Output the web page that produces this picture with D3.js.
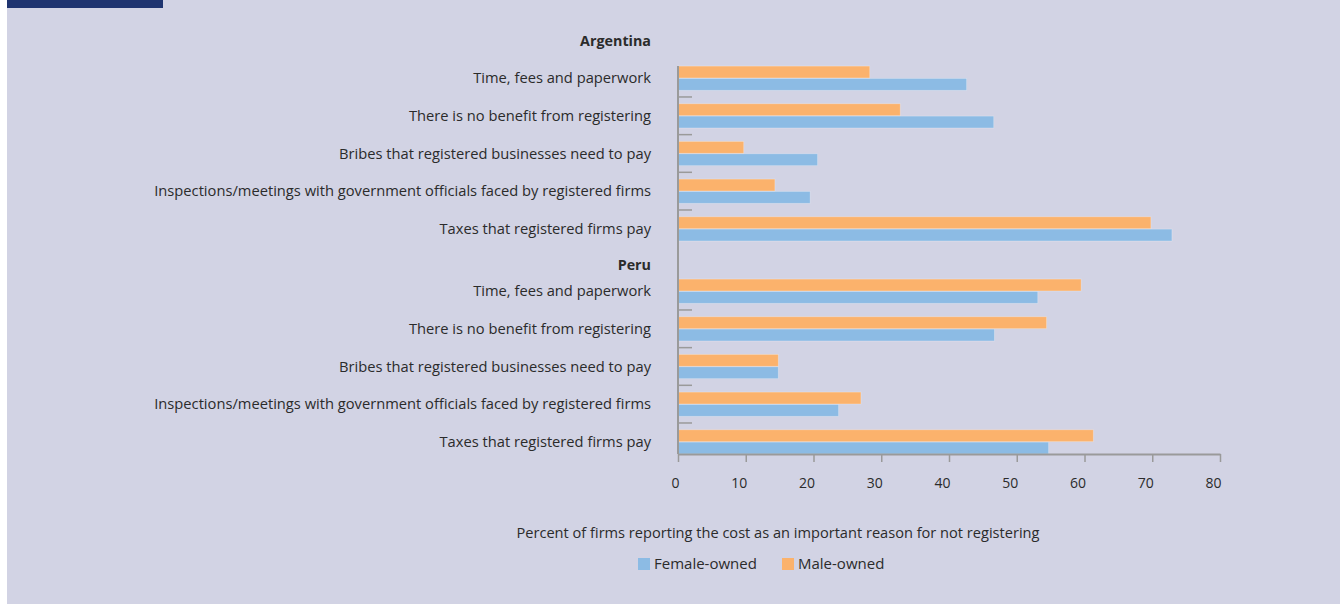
<!DOCTYPE html>
<html>
<head>
<meta charset="utf-8">
<script src="https://cdn.jsdelivr.net/npm/d3@7"></script>
<style>
  html, body { margin: 0; padding: 0; background: #ffffff; }
  svg { display: block; }
  text { font-family: "Open Sans", "Noto Sans", sans-serif; fill: #2b2b2b; }
</style>
</head>
<body>
<svg id="chart" width="1340" height="604"></svg>
<script>
// values (percent of firms)
var groups = ["Argentina", "Peru"];
var reasons = [
  "Time, fees and paperwork",
  "There is no benefit from registering",
  "Bribes that registered businesses need to pay",
  "Inspections/meetings with government officials faced by registered firms",
  "Taxes that registered firms pay"
];
var series = ["Female-owned", "Male-owned"];
var femaleArgentina = [42.6, 46.6, 20.6, 19.5, 72.9];
var maleArgentina = [28.3, 32.8, 9.7, 14.3, 69.8];
var femalePeru = [53.1, 46.7, 14.8, 23.7, 54.7];
var malePeru = [59.5, 54.4, 14.8, 27.0, 61.3];
var xTicks = [0, 10, 20, 30, 40, 50, 60, 70, 80];

var values = {
  "Argentina": { "Female-owned": femaleArgentina, "Male-owned": maleArgentina },
  "Peru": { "Female-owned": femalePeru, "Male-owned": malePeru }
};

var colors = { "Female-owned": "#8cbbe4", "Male-owned": "#fbb26c" };
var axisColor = "#9a9a9a";
var fontSize = "14.7px";

var svg = d3.select("#chart");

// background panel
svg.append("rect")
  .attr("x", 7).attr("y", 0)
  .attr("width", 1333).attr("height", 604)
  .attr("fill", "#d2d3e4");

// figure tab (title itself is cut off above the picture)
svg.append("rect")
  .attr("x", 7).attr("y", 0)
  .attr("width", 156).attr("height", 8)
  .attr("fill", "#1f3470");

var x = d3.scaleLinear()
  .domain([0, 80])
  .range([678, 1220]);

var rowStep = 37.67;
var groupTop = { "Argentina": 59.3, "Peru": 272.3 };

var y = {};
groups.forEach(function(g) {
  y[g] = d3.scaleBand()
    .domain(reasons)
    .range([groupTop[g], groupTop[g] + rowStep * reasons.length]);
});

// inside each row: male bar on top, female bar below
var inner = d3.scaleBand()
  .domain(["Male-owned", "Female-owned"])
  .range([6.8, 31])
  .paddingInner(0.04);

var plotTop = y["Argentina"](reasons[0]) + inner("Male-owned");
var plotBottom = y["Peru"](reasons[reasons.length - 1]) + inner("Female-owned") + inner.bandwidth();

groups.forEach(function(g) {
  var gg = svg.append("g").attr("class", "group");

  // group header
  gg.append("text")
    .attr("x", 651)
    .attr("y", g == "Argentina" ? 46 : 270)
    .attr("text-anchor", "end")
    .style("font-size", "14.3px")
    .style("font-weight", "bold")
    .text(g);

  // category labels
  var yAxis = d3.axisLeft(y[g]).tickSize(0).tickPadding(0);
  var ax = gg.append("g")
    .attr("transform", "translate(651,0)")
    .call(yAxis);
  ax.select(".domain").remove();
  ax.selectAll("text")
    .attr("dy", "0.35em")
    .style("font-size", fontSize)
    .style("font-family", "'Open Sans', sans-serif")
    .attr("fill", "#2b2b2b");

  // bars
  series.forEach(function(s) {
    gg.selectAll("rect." + s)
      .data(values[g][s])
      .enter()
      .append("rect")
      .attr("x", x(0))
      .attr("y", function(d, i) { return y[g](reasons[i]) + inner(s); })
      .attr("width", function(d) { return x(d) - x(0); })
      .attr("height", inner.bandwidth())
      .attr("fill", colors[s])
      .attr("stroke", "rgba(255,255,255,0.3)")
      .attr("stroke-width", 0.8);
  });

  // small separator ticks between rows
  gg.selectAll("line.sep")
    .data(reasons.slice(1))
    .enter()
    .append("line")
    .attr("x1", x(0))
    .attr("x2", x(0) + 14)
    .attr("y1", function(d) { return y[g](d); })
    .attr("y2", function(d) { return y[g](d); })
    .attr("stroke", axisColor)
    .attr("stroke-width", 1.5);
});

// vertical axis line
svg.append("line")
  .attr("x1", x(0)).attr("x2", x(0))
  .attr("y1", plotTop).attr("y2", plotBottom)
  .attr("stroke", axisColor)
  .attr("stroke-width", 2);

// x axis
var xAxis = d3.axisBottom(x)
  .tickValues(xTicks)
  .tickSize(8)
  .tickPadding(16)
  .tickSizeOuter(0);

var xg = svg.append("g")
  .attr("transform", "translate(0," + plotBottom + ")")
  .call(xAxis);
xg.select(".domain").attr("stroke", axisColor).attr("stroke-width", 2);
xg.selectAll(".tick line").attr("stroke", axisColor).attr("stroke-width", 1.5);
xg.selectAll(".tick text")
  .attr("text-anchor", "end")
  .attr("dx", 1)
  .style("font-size", "14px")
  .style("font-family", "'Open Sans', sans-serif")
  .attr("fill", "#2b2b2b");

// axis title
svg.append("text")
  .attr("x", 778)
  .attr("y", 538)
  .attr("text-anchor", "middle")
  .style("font-size", "14.6px")
  .text("Percent of firms reporting the cost as an important reason for not registering");

// legend
var legendX = [638, 782];
var leg = svg.selectAll("g.legend")
  .data(series)
  .enter()
  .append("g")
  .attr("transform", function(d, i) { return "translate(" + legendX[i] + ",558)"; });

leg.append("rect")
  .attr("width", 12)
  .attr("height", 12)
  .attr("fill", function(d) { return colors[d]; });

leg.append("text")
  .attr("x", 16)
  .attr("y", 11)
  .style("font-size", "15px")
  .text(function(d) { return d; });
</script>
</body>
</html>
